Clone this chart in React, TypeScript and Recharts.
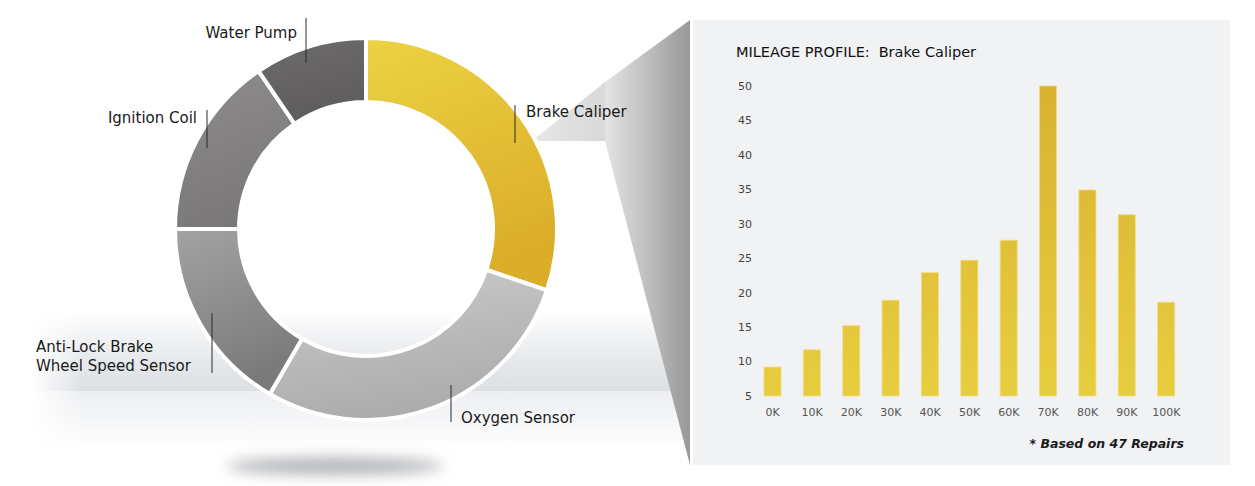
import { PieChart, Pie, Cell, BarChart, Bar, XAxis, YAxis } from 'recharts';

// donut: share of repairs per part (percent)
const parts = [
  'Brake Caliper',
  'Oxygen Sensor',
  'Anti-Lock Brake\nWheel Speed Sensor',
  'Ignition Coil',
  'Water Pump',
];
const shares = [30.2, 28.2, 16.6, 15.5, 9.5];

// mileage profile for Brake Caliper
const mileage = ['0K', '10K', '20K', '30K', '40K', '50K', '60K', '70K', '80K', '90K', '100K'];
const repairs = [9.2, 11.7, 15.2, 18.9, 22.9, 24.7, 27.6, 50, 34.9, 31.3, 18.6];
const yTicks = [5, 10, 15, 20, 25, 30, 35, 40, 45, 50];

const pieData = parts.map((name, i) => ({ name, value: shares[i] }));
const barData = mileage.map((m, i) => ({ mileage: m, repairs: repairs[i] }));

const FONT = '"DejaVu Sans", Verdana, sans-serif';

const sliceGrads = [
  ['#ecd343', '#dbad29'],
  ['#cbcbcb', '#acacac'],
  ['#a3a3a3', '#7a7a7a'],
  ['#8e8c8c', '#7a7878'],
  ['#6d6b6b', '#5e5c5c'],
];

// leader line + text placement, relative to the donut centre
const labelLayout = [
  { lx: 149, y1: -124, y2: -86, tx: 160, ty: [-112], anchor: 'start' },
  { lx: 85, y1: 156, y2: 193, tx: 95, ty: [194], anchor: 'start' },
  { lx: -154, y1: 84, y2: 144, tx: -330, ty: [123, 142], anchor: 'start' },
  { lx: -159, y1: -119, y2: -81, tx: -169, ty: [-106], anchor: 'end' },
  { lx: -60, y1: -211, y2: -166, tx: -69, ty: [-191], anchor: 'end' },
];

function renderLabel(props: any) {
  const { cx, cy, index, name } = props;
  const l = labelLayout[index];
  const lines = String(name).split('\n');
  return (
    <g key={`lbl-${index}`}>
      <line x1={cx + l.lx} x2={cx + l.lx} y1={cy + l.y1} y2={cy + l.y2} stroke="#2a2a2a" strokeWidth={1} />
      {lines.map((t, k) => (
        <text
          key={k}
          x={cx + l.tx}
          y={cy + l.ty[k]}
          textAnchor={l.anchor}
          fontFamily={FONT}
          fontSize={15}
          fill="#1a1a1a"
        >
          {t}
        </text>
      ))}
    </g>
  );
}

function Backdrop() {
  return (
    <svg width={1255} height={486} style={{ position: 'absolute', left: 0, top: 0 }}>
      <defs>
        <linearGradient id="bandV" x1="0" y1="0" x2="0" y2="1">
          <stop offset="0" stopColor="#dde0e4" stopOpacity={0} />
          <stop offset="0.6" stopColor="#e1e4e7" stopOpacity={0.8} />
          <stop offset="1" stopColor="#dcdfe3" stopOpacity={1} />
        </linearGradient>
        <linearGradient id="belowV" x1="0" y1="0" x2="0" y2="1">
          <stop offset="0" stopColor="#eceef1" />
          <stop offset="1" stopColor="#ffffff" />
        </linearGradient>
        <linearGradient id="fadeH" x1="0" y1="0" x2="1" y2="0">
          <stop offset="0" stopColor="#fff" stopOpacity={0} />
          <stop offset="0.08" stopColor="#fff" stopOpacity={1} />
          <stop offset="1" stopColor="#fff" stopOpacity={1} />
        </linearGradient>
        <mask id="bandMask">
          <rect x={30} y={290} width={660} height={170} fill="url(#fadeH)" />
        </mask>
        <linearGradient id="funnel" gradientUnits="userSpaceOnUse" x1={605} y1={0} x2={690} y2={0}>
          <stop offset="0" stopColor="#e4e4e4" />
          <stop offset="1" stopColor="#989898" />
        </linearGradient>
        <linearGradient id="tri" gradientUnits="userSpaceOnUse" x1={532} y1={0} x2={605} y2={0}>
          <stop offset="0" stopColor="#d0d0d0" stopOpacity={0.5} />
          <stop offset="1" stopColor="#d9d9d9" />
        </linearGradient>
        <filter id="blur" x="-50%" y="-200%" width="200%" height="500%">
          <feGaussianBlur stdDeviation="7" />
        </filter>
      </defs>
      <g mask="url(#bandMask)">
        <rect x={30} y={310} width={660} height={81} fill="url(#bandV)" />
        <rect x={30} y={391} width={660} height={60} fill="url(#belowV)" />
      </g>
      <ellipse cx={335} cy={466} rx={108} ry={9} fill="#b4b6b9" filter="url(#blur)" />
      <polygon points="532,141 605,82 605,141" fill="url(#tri)" />
      <polygon points="605,82 690,20 690,465 605,141" fill="url(#funnel)" />
      <rect x={693} y={20} width={537} height={445} fill="#f1f2f4" />
      <text x={736} y={57} fontFamily={FONT} fontSize={14.5} fill="#111">
        <tspan>MILEAGE PROFILE:</tspan>
        <tspan dx={9}>Brake Caliper</tspan>
      </text>
      <text
        x={1184}
        y={448}
        textAnchor="end"
        fontFamily={FONT}
        fontSize={12.5}
        fontStyle="italic"
        fontWeight="bold"
        fill="#1a1a1a"
      >
        * Based on 47 Repairs
      </text>
    </svg>
  );
}

export default function App() {
  return (
    <div style={{ position: 'absolute', left: 0, top: 0, width: 1255, height: 486, background: '#fff', overflow: 'hidden' }}>
      <Backdrop />
      <div style={{ position: 'absolute', left: 0, top: 0 }}>
        <PieChart width={690} height={486} margin={{ top: 0, right: 0, bottom: 0, left: 0 }}>
          <defs>
            {sliceGrads.map((g, i) => (
              <linearGradient key={i} id={`slice${i}`} x1="0" y1="0" x2="0.3" y2="1">
                <stop offset="0" stopColor={g[0]} />
                <stop offset="1" stopColor={g[1]} />
              </linearGradient>
            ))}
          </defs>
          <Pie
            data={pieData}
            dataKey="value"
            nameKey="name"
            cx={366}
            cy={229}
            innerRadius={127}
            outerRadius={191}
            startAngle={90}
            endAngle={-270}
            stroke="#ffffff"
            strokeWidth={4}
            label={renderLabel}
            labelLine={false}
            isAnimationActive={false}
          >
            {pieData.map((d, i) => (
              <Cell key={d.name} fill={`url(#slice${i})`} />
            ))}
          </Pie>
        </PieChart>
      </div>
      <div style={{ position: 'absolute', left: 692, top: 20 }}>
        <BarChart width={538} height={445} data={barData} margin={{ top: 66, right: 44, bottom: 39, left: 0 }}>
          <defs>
            <linearGradient id="barGrad" gradientUnits="userSpaceOnUse" x1={0} y1={66} x2={0} y2={376}>
              <stop offset="0" stopColor="#d8b231" />
              <stop offset="1" stopColor="#e8cd3f" />
            </linearGradient>
          </defs>
          <XAxis
            dataKey="mileage"
            height={30}
            axisLine={false}
            tickLine={false}
            tickSize={0}
            tickMargin={12}
            interval={0}
            tick={{ fontSize: 11, fill: '#555', fontFamily: FONT }}
          />
          <YAxis
            width={61}
            domain={[5, 50]}
            ticks={yTicks}
            interval={0}
            axisLine={false}
            tickLine={false}
            tickSize={0}
            tickMargin={1}
            tick={{ fontSize: 11, fill: '#444', fontFamily: FONT }}
          />
          <Bar
            dataKey="repairs"
            barSize={17}
            fill="url(#barGrad)"
            stroke="#efdc7a"
            strokeWidth={0.8}
            isAnimationActive={false}
          />
        </BarChart>
      </div>
    </div>
  );
}
